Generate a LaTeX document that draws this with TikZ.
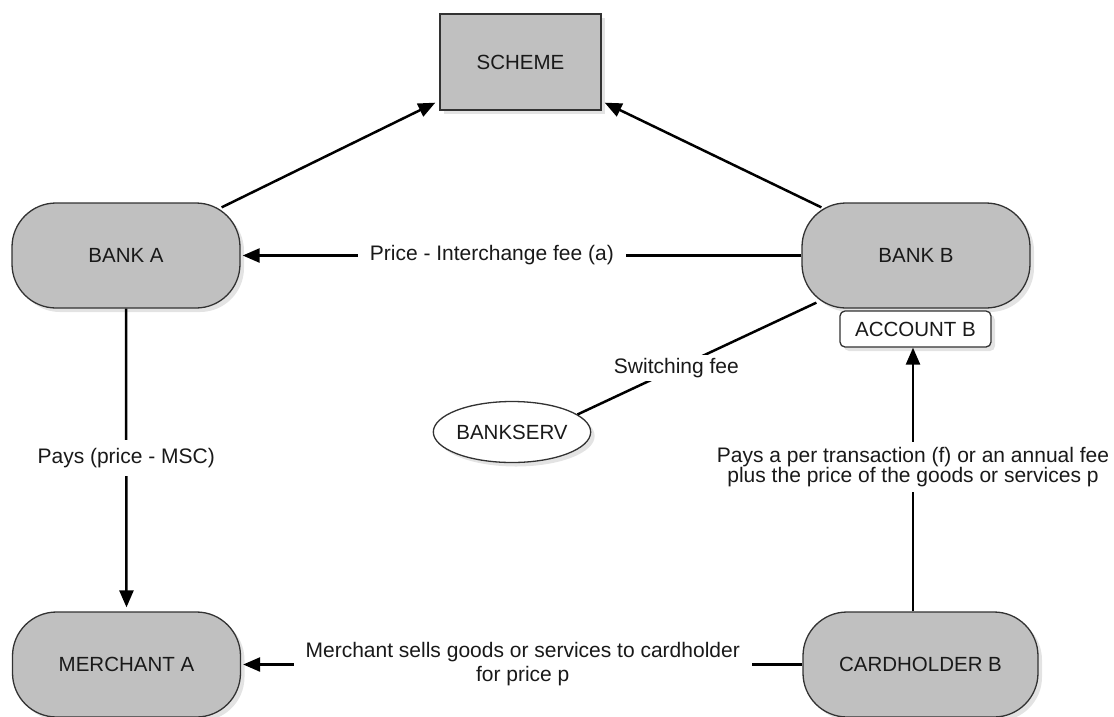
\documentclass[tikz,border=0pt]{standalone}
\usepackage{fontspec}
\setmainfont{Liberation Sans}
\usetikzlibrary{arrows.meta,shapes.geometric,shadows,calc}
\definecolor{boxgray}{RGB}{192,192,192}
\definecolor{edgegray}{RGB}{50,50,50}
\definecolor{txt}{RGB}{25,25,25}
\begin{document}
\begin{tikzpicture}[x=1pt,y=1pt,
  box/.style={draw=edgegray, line width=1.3pt, fill=boxgray, text=txt,
    font=\fontsize{20.5}{23}\selectfont,
    drop shadow={shadow xshift=4pt, shadow yshift=-4pt, opacity=0.22}},
  pill/.style={box, rectangle, rounded corners=44pt, minimum width=228pt, minimum height=105pt},
  conn/.style={line width=2.5pt, draw=black},
  arr/.style={conn, -{Triangle[length=17pt,width=14pt]}},
  lbl/.style={fill=white, text=txt, font=\fontsize{21}{23}\selectfont,
    inner xsep=12pt, inner ysep=3pt, align=center},
]
\useasboundingbox (0,0) rectangle (1114,-716);

\node[box, rectangle, minimum width=161pt, minimum height=96pt] (scheme) at (520.5,-62) {SCHEME};
\node[pill] (bankA) at (126,-255.5) {BANK A};
\node[pill] (bankB) at (916,-255.5) {BANK B};
\node[box, fill=white, rectangle, rounded corners=5pt, minimum width=151pt, minimum height=36pt] (accB) at (915.5,-329) {ACCOUNT B};
\node[box, fill=white, ellipse, minimum width=156pt, minimum height=61pt, inner sep=0pt] (bankserv) at (512,-432) {BANKSERV};
\node[pill] (merchA) at (126.5,-664.5) {MERCHANT A};
\node[pill, minimum width=235pt] (cardB) at (920.5,-664.5) {CARDHOLDER B};

\draw[arr] ($(bankA.north east)+(-19,-5)$) -- ($(scheme.south west)+(-4,8)$);
\draw[arr] ($(bankB.north west)+(20,-5)$) -- ($(scheme.south east)+(3,8)$);
\draw[arr] (bankB.west) -- node[lbl, pos=0.554] {Price - Interchange fee (a)} ($(bankA.east)+(2,0)$);
\draw[conn] ($(bankB.south west)+(15,6)$) -- node[lbl, pos=0.586, inner xsep=6pt] {Switching fee} (bankserv.15);
\draw[arr] (bankA.south) -- node[lbl, inner ysep=8pt, inner xsep=3pt] {Pays (price - MSC)} ($(merchA.north)+(0,4)$);
\draw[arr] ($(cardB.north)+(-7.5,0)$) -- node[lbl, pos=0.547, inner xsep=3pt, inner ysep=5pt, font=\fontsize{21}{20}\selectfont]
  {Pays a per transaction (f) or an annual fee\\plus the price of the goods or services p} ($(accB.south)+(-2.5,0)$);
\draw[arr] (cardB.west) -- node[lbl, font=\fontsize{21}{24}\selectfont]
  {Merchant sells goods or services to cardholder\\for price p} ($(merchA.east)+(2,0)$);
\end{tikzpicture}
\end{document}
